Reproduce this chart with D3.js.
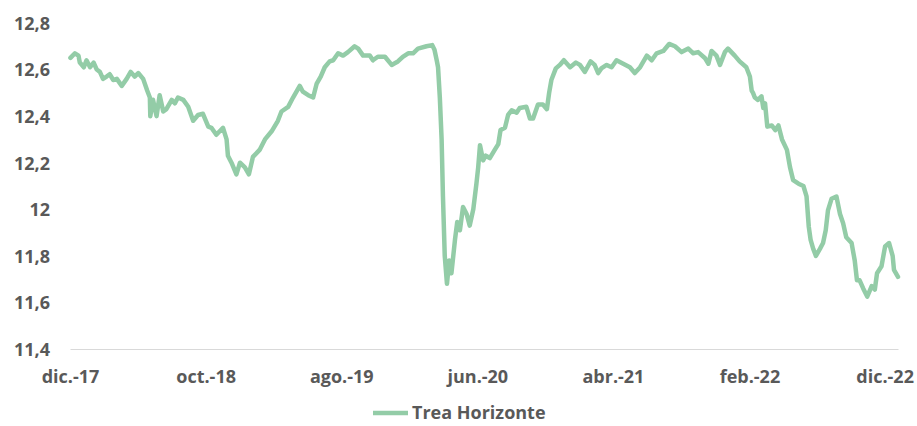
<!DOCTYPE html>
<html>
<head>
<meta charset="utf-8">
<script src="https://cdn.jsdelivr.net/npm/d3@7"></script>
<style>
  body { margin: 0; background: #fff; }
  svg text { font-family: 'Open Sans', sans-serif; font-weight: 700; fill: #595959; }
</style>
</head>
<body>
<div id="chart"></div>
<script>
// Series: Trea Horizonte
const dates = [
  '2017-12-02','2017-12-12','2017-12-20','2017-12-23','2018-01-01','2018-01-07','2018-01-15','2018-01-23','2018-01-30',
  '2018-02-06','2018-02-13','2018-02-21','2018-02-28','2018-03-08','2018-03-16','2018-03-27','2018-04-07','2018-04-16',
  '2018-04-25','2018-05-03','2018-05-14','2018-05-23','2018-05-29','2018-05-30','2018-06-05','2018-06-13','2018-06-20',
  '2018-06-28','2018-07-05','2018-07-17','2018-07-24','2018-07-31','2018-08-12','2018-08-23','2018-09-03','2018-09-14',
  '2018-09-25','2018-10-07','2018-10-14','2018-10-25','2018-11-09','2018-11-17','2018-11-20','2018-11-28','2018-12-09',
  '2018-12-17','2018-12-28','2019-01-06','2019-01-15','2019-01-30','2019-02-11','2019-02-26','2019-03-12','2019-03-20',
  '2019-04-04','2019-04-15','2019-04-30','2019-05-07','2019-05-19','2019-05-30','2019-06-07','2019-06-16','2019-06-25',
  '2019-07-06','2019-07-14','2019-07-25','2019-08-05','2019-08-16','2019-08-31','2019-09-08','2019-09-19','2019-10-04',
  '2019-10-11','2019-10-22','2019-11-07','2019-11-22','2019-12-06','2019-12-17','2019-12-29','2020-01-09','2020-01-20',
  '2020-02-08','2020-02-21','2020-02-26','2020-03-02','2020-03-05','2020-03-09','2020-03-13','2020-03-16','2020-03-20',
  '2020-03-25','2020-03-30','2020-04-04','2020-04-12','2020-04-17','2020-04-23','2020-04-30','2020-05-08','2020-05-15',
  '2020-05-23','2020-05-30','2020-06-03','2020-06-07','2020-06-14','2020-06-20','2020-06-29','2020-07-10','2020-07-18',
  '2020-07-23','2020-08-02','2020-08-09','2020-08-17','2020-08-28','2020-09-04','2020-09-19','2020-09-27','2020-10-04',
  '2020-10-15','2020-10-26','2020-11-04','2020-11-09','2020-11-14','2020-11-24','2020-12-03','2020-12-12','2020-12-26',
  '2021-01-08','2021-01-17','2021-01-28','2021-02-10','2021-02-19','2021-02-27','2021-03-06','2021-03-18','2021-03-29',
  '2021-04-09','2021-04-24','2021-05-09','2021-05-20','2021-06-01','2021-06-16','2021-06-27','2021-07-08','2021-07-23',
  '2021-08-05','2021-08-18','2021-09-02','2021-09-17','2021-09-28','2021-10-09','2021-10-24','2021-11-01','2021-11-08',
  '2021-11-19','2021-11-27','2021-12-08','2021-12-15','2021-12-30','2022-01-10','2022-01-25','2022-02-02','2022-02-06',
  '2022-02-09','2022-02-13','2022-02-20','2022-02-28','2022-03-04','2022-03-08','2022-03-13','2022-03-23','2022-03-31',
  '2022-04-07','2022-04-15','2022-04-26','2022-05-03','2022-05-10','2022-05-22','2022-06-02','2022-06-09','2022-06-14',
  '2022-06-18','2022-06-24','2022-06-30','2022-07-09','2022-07-16','2022-07-22','2022-07-27','2022-08-04','2022-08-15',
  '2022-08-23','2022-08-30','2022-09-06','2022-09-18','2022-09-25','2022-09-30','2022-10-06','2022-10-14','2022-10-23',
  '2022-11-02','2022-11-09','2022-11-14','2022-11-24','2022-12-02','2022-12-11','2022-12-19','2022-12-22','2022-12-31'
];
const values = [
  12.65,12.67,12.66,12.63,12.61,12.64,12.61,12.63,12.60,
  12.59,12.56,12.57,12.58,12.555,12.56,12.53,12.56,12.59,
  12.57,12.585,12.56,12.51,12.48,12.40,12.47,12.40,12.49,
  12.42,12.43,12.47,12.455,12.48,12.47,12.44,12.38,12.405,
  12.41,12.355,12.35,12.32,12.35,12.30,12.23,12.20,12.15,
  12.20,12.18,12.15,12.225,12.255,12.30,12.335,12.38,12.42,
  12.44,12.48,12.53,12.505,12.49,12.48,12.54,12.57,12.61,
  12.635,12.64,12.67,12.66,12.675,12.70,12.69,12.66,12.66,
  12.64,12.655,12.655,12.62,12.635,12.655,12.67,12.67,12.69,
  12.70,12.705,12.685,12.64,12.61,12.48,12.30,12.055,11.80,
  11.68,11.78,11.725,11.87,11.945,11.91,12.01,11.98,11.93,
  12.00,12.11,12.18,12.275,12.21,12.23,12.22,12.255,12.28,
  12.34,12.35,12.405,12.425,12.415,12.435,12.44,12.39,12.39,
  12.45,12.45,12.43,12.50,12.555,12.605,12.62,12.64,12.61,
  12.63,12.62,12.59,12.635,12.62,12.585,12.605,12.62,12.61,
  12.64,12.625,12.61,12.585,12.61,12.66,12.64,12.67,12.68,
  12.71,12.70,12.675,12.69,12.67,12.675,12.65,12.625,12.68,
  12.66,12.62,12.675,12.69,12.66,12.635,12.61,12.57,12.51,
  12.50,12.48,12.47,12.485,12.435,12.455,12.355,12.36,12.34,
  12.36,12.30,12.255,12.18,12.125,12.11,12.10,12.055,11.925,
  11.87,11.83,11.80,11.83,11.855,11.91,11.995,12.045,12.055,
  11.98,11.94,11.88,11.855,11.78,11.695,11.695,11.66,11.625,
  11.67,11.655,11.725,11.755,11.84,11.855,11.80,11.74,11.71
];

const xTickDates = ['2017-12-01','2018-10-01','2019-08-01','2020-06-01','2021-04-01','2022-02-01','2022-12-01'];
const xTickLabels = ['dic.-17','oct.-18','ago.-19','jun.-20','abr.-21','feb.-22','dic.-22'];
const yTicks = [11.4, 11.6, 11.8, 12, 12.2, 12.4, 12.6, 12.8];
const seriesName = 'Trea Horizonte';

const W = 917, H = 426;
const margin = { top: 23, right: 19, bottom: 77, left: 70 };
const width = W - margin.left - margin.right;
const height = H - margin.top - margin.bottom;
const lineColor = '#93cca7';

const parse = d3.timeParse('%Y-%m-%d');
const data = dates.map((d, i) => ({ date: parse(d), value: values[i] }));

const svg = d3.select('#chart').append('svg')
  .attr('width', W)
  .attr('height', H);

const g = svg.append('g')
  .attr('transform', `translate(${margin.left},${margin.top})`);

// Scales
const x = d3.scaleTime()
  .domain([parse('2017-12-01'), parse('2022-12-31')])
  .range([0, width]);

const y = d3.scaleLinear()
  .domain([11.4, 12.8])
  .range([height, 0]);

// Y axis (labels only)
const yAxis = g.append('g')
  .call(d3.axisLeft(y)
    .tickValues(yTicks)
    .tickSize(0)
    .tickPadding(20)
    .tickFormat(d => String(+d.toFixed(1)).replace('.', ',')));
yAxis.select('.domain').remove();
yAxis.selectAll('text')
  .style('font-size', '18px')
  .attr('dy', '0.35em');

// X axis with light baseline
const xAxis = g.append('g')
  .attr('transform', `translate(0,${height})`)
  .call(d3.axisBottom(x)
    .tickValues(xTickDates.map(parse))
    .tickSize(0)
    .tickPadding(21)
    .tickFormat((d, i) => xTickLabels[i]));
xAxis.select('.domain')
  .attr('stroke', '#d9d9d9')
  .attr('stroke-width', 1.2);
xAxis.selectAll('text')
  .style('font-size', '18px');

// The line
const valueline = d3.line()
  .x(d => x(d.date))
  .y(d => y(d.value));

g.append('path')
  .datum(data)
  .attr('d', valueline)
  .attr('fill', 'none')
  .attr('stroke', lineColor)
  .attr('stroke-width', 4.5)
  .attr('stroke-linejoin', 'round')
  .attr('stroke-linecap', 'round');

// Legend
const legend = svg.append('g')
  .attr('transform', 'translate(373,413)');
legend.append('line')
  .attr('x1', 0).attr('x2', 35)
  .attr('y1', 0).attr('y2', 0)
  .attr('stroke', lineColor)
  .attr('stroke-width', 4.5);
legend.append('text')
  .attr('x', 39)
  .attr('dy', '0.35em')
  .style('font-size', '18px')
  .text(seriesName);
</script>
</body>
</html>
